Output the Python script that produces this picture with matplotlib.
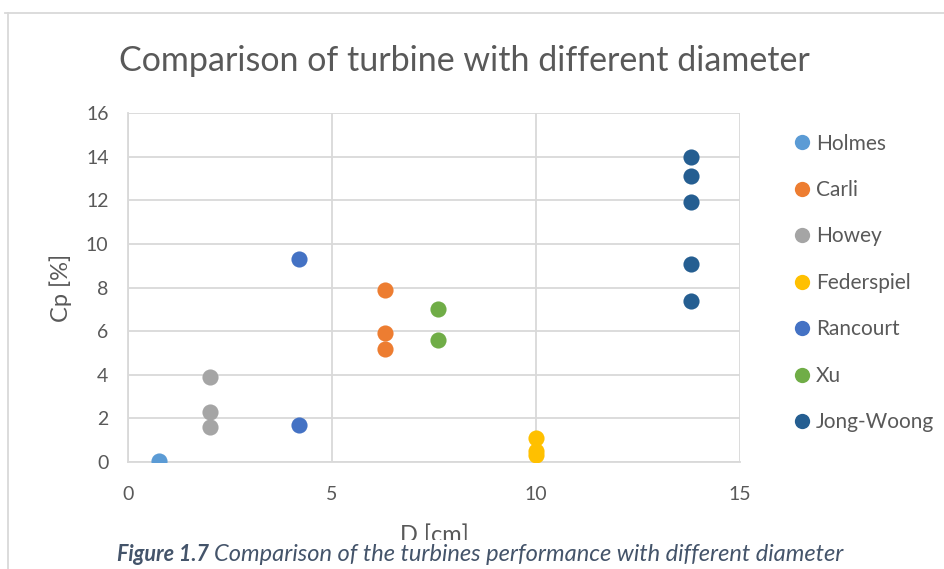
import matplotlib.pyplot as plt
from matplotlib.lines import Line2D
from matplotlib.patches import Rectangle

plt.rcParams['font.family'] = ['Lato', 'DejaVu Sans']

# turbine diameter D [cm] and power coefficient Cp [%] per study
holmes_d = [0.75]
holmes_cp = [0.05]
carli_d = [6.3, 6.3, 6.3]
carli_cp = [7.9, 5.9, 5.2]
howey_d = [2.0, 2.0, 2.0]
howey_cp = [3.9, 2.3, 1.6]
federspiel_d = [10.0, 10.0, 10.0]
federspiel_cp = [1.1, 0.5, 0.3]
rancourt_d = [4.2, 4.2]
rancourt_cp = [9.3, 1.7]
xu_d = [7.6, 7.6]
xu_cp = [7.0, 5.6]
jong_d = [13.8, 13.8, 13.8, 13.8, 13.8]
jong_cp = [14.0, 13.1, 11.9, 9.1, 7.4]

names = ["Holmes", "Carli", "Howey", "Federspiel", "Rancourt", "Xu", "Jong-Woong"]
colors = ["#5B9BD5", "#ED7D31", "#A5A5A5", "#FFC000", "#4472C4", "#70AD47", "#255E91"]
series = [(holmes_d, holmes_cp), (carli_d, carli_cp), (howey_d, howey_cp),
          (federspiel_d, federspiel_cp), (rancourt_d, rancourt_cp), (xu_d, xu_cp),
          (jong_d, jong_cp)]

text_col = "#595959"
grid_col = "#D9D9D9"

fig = plt.figure(figsize=(9.45, 5.69), dpi=100)
ax = fig.add_axes([0.1354, 0.188, 0.6476, 0.6134])

for (d, cp), name, col in zip(series, names, colors):
    ax.scatter(d, cp, s=135, color=col, label=name, zorder=3, linewidths=0)

ax.set_xlim(0, 15)
ax.set_ylim(0, 16)
ax.set_xticks([0, 5, 10, 15])
ax.set_yticks(range(0, 17, 2))
ax.grid(True, color=grid_col, linewidth=1.3)
ax.set_axisbelow(True)
for side in ["top", "right"]:
    ax.spines[side].set_visible(False)
ax.spines["left"].set_color(grid_col)
ax.spines["bottom"].set_color(grid_col)
ax.spines["left"].set_linewidth(1.3)
ax.spines["bottom"].set_linewidth(1.3)
ax.tick_params(length=0, labelsize=14, colors=text_col, pad=14)
ax.tick_params(axis="x", pad=17)

ax.set_xlabel("D [cm]", fontsize=17, color=text_col, labelpad=16)
ax.set_ylabel("Cp [%]", fontsize=17, color=text_col, labelpad=10)

fig.text(0.491, 0.893, "Comparison of turbine with different diameter",
         fontsize=24.5, color=text_col, ha="center", va="center")

handles = [Line2D([], [], marker="o", linestyle="", markersize=11,
                  markerfacecolor=c, markeredgewidth=0) for c in colors]
fig.legend(handles, names, loc="upper left", bbox_to_anchor=(0.828, 0.78),
           frameon=False, fontsize=15, labelcolor=text_col, handletextpad=0.1,
           labelspacing=1.27, handlelength=1.1, borderaxespad=0)

# outer chart border
fig.add_artist(Line2D([0.0053, 1.0], [0.977, 0.977], color=grid_col, linewidth=1.3,
                      transform=fig.transFigure))
fig.add_artist(Line2D([0.0085, 0.0085], [0.977, 0.0], color=grid_col, linewidth=1.3,
                      transform=fig.transFigure))

# caption strip overlapping the lower edge of the chart
fig.add_artist(Rectangle((0.0095, 0.0), 0.99, 0.051, transform=fig.transFigure,
                         facecolor="white", edgecolor="none", zorder=5))
fig.text(0.124, 0.025, "Figure 1.7", fontsize=15.5, color="#44546A",
         fontweight="bold", style="italic", ha="left", va="center", zorder=6)
fig.text(0.2265, 0.025, "Comparison of the turbines performance with different diameter",
         fontsize=17, color="#44546A", style="italic", ha="left", va="center", zorder=6)

fig.savefig("out.png", dpi=100)
